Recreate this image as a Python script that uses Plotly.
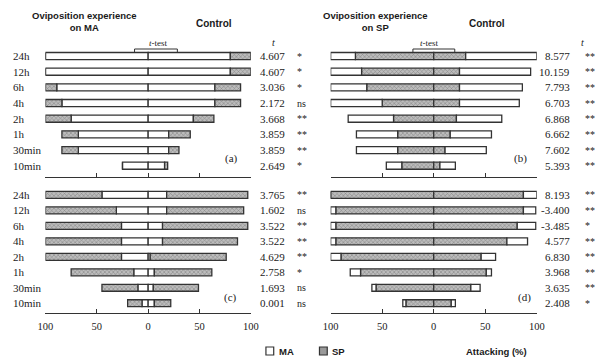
import plotly.graph_objects as go

rows = ["24h", "12h", "6h", "4h", "2h", "1h", "30min", "10min"]

# Panel (a): oviposition experience on MA  (inner = MA, outer = SP)
a_left_MA = [100, 100, 89, 84, 75, 68, 68, 25]
a_left_SP = [0, 0, 11, 16, 25, 16, 16, 0]
a_right_MA = [80, 80, 65, 65, 44, 20, 20, 16]
a_right_SP = [20, 20, 25, 25, 20, 21, 10, 3]
a_t = ["4.607", "4.607", "3.036", "2.172", "3.668", "3.859", "3.859", "2.649"]
a_sig = ["*", "*", "*", "ns", "**", "**", "**", "*"]

# Panel (b): oviposition experience on SP  (inner = SP, outer = MA)
b_left_SP = [76, 70, 65, 50, 39, 35, 35, 31]
b_left_MA = [24, 30, 35, 50, 44, 40, 40, 15]
b_right_SP = [31, 25, 25, 25, 22, 16, 11, 6]
b_right_MA = [69, 69, 61, 58, 44, 40, 40, 15]
b_t = ["8.577", "10.159", "7.793", "6.703", "6.868", "6.662", "7.602", "5.393"]
b_sig = ["**", "**", "**", "**", "**", "**", "**", "**"]

# Panel (c): oviposition experience on MA  (inner = MA, outer = SP)
c_left_MA = [45, 31, 26, 26, 26, 14, 10, 6]
c_left_SP = [55, 69, 74, 74, 74, 61, 35, 14]
c_right_MA = [18, 18, 14, 14, 2, 6, 5, 6]
c_right_SP = [79, 75, 83, 73, 74, 56, 44, 16]
c_t = ["3.765", "1.602", "3.522", "3.522", "4.629", "2.758", "1.693", "0.001"]
c_sig = ["**", "ns", "**", "**", "**", "*", "ns", "ns"]

# Panel (d): oviposition experience on SP  (inner = SP, outer = MA)
d_left_SP = [100, 95, 95, 95, 90, 71, 56, 27]
d_left_MA = [0, 5, 5, 5, 10, 10, 4, 3]
d_right_SP = [87, 87, 81, 71, 46, 51, 36, 17]
d_right_MA = [13, 12, 18, 20, 14, 5, 9, 4]
d_t = ["8.193", "-3.400", "-3.485", "4.577", "6.830", "3.968", "3.635", "2.408"]
d_sig = ["**", "**", "*", "**", "**", "**", "**", "*"]

tick_vals = [-100, -50, 0, 50, 100]
tick_text = ["100", "50", "0", "50", "100"]
legend_names = ["MA", "SP"]

W, H = 600, 361
def px(x):
    return x / W
def py(y):
    return 1 - y / H

SERIF = "Liberation Serif"
SANS = "Liberation Sans"
TXT = "#1a1a1a"
LINE = "#333333"
BAR_W = 0.45
SP_BG = "#bcbcbc"
SP_FG = "#555555"

def ma_marker():
    return dict(color="white", line=dict(color=LINE, width=1.3))

def sp_marker():
    return dict(color=SP_BG,
                pattern=dict(shape="x", fgcolor=SP_FG, bgcolor=SP_BG,
                             size=3, solidity=0.35),
                line=dict(color=LINE, width=1.3))

fig = go.Figure()
yidx = list(range(len(rows)))

def add_panel(xa, ya, inner_left, outer_left, inner_right, outer_right, inner_is_ma):
    inner_m = ma_marker if inner_is_ma else sp_marker
    outer_m = sp_marker if inner_is_ma else ma_marker
    inner_name = "MA" if inner_is_ma else "SP"
    outer_name = "SP" if inner_is_ma else "MA"
    fig.add_trace(go.Bar(y=yidx, x=[-v for v in inner_left], base=[0] * len(rows),
                         orientation="h", width=BAR_W, marker=inner_m(),
                         xaxis=xa, yaxis=ya, name=inner_name))
    fig.add_trace(go.Bar(y=yidx, x=inner_right, base=[0] * len(rows),
                         orientation="h", width=BAR_W, marker=inner_m(),
                         xaxis=xa, yaxis=ya, name=inner_name))
    fig.add_trace(go.Bar(y=yidx, x=[-v for v in outer_left],
                         base=[-v for v in inner_left],
                         orientation="h", width=BAR_W, marker=outer_m(),
                         xaxis=xa, yaxis=ya, name=outer_name))
    fig.add_trace(go.Bar(y=yidx, x=outer_right, base=inner_right,
                         orientation="h", width=BAR_W, marker=outer_m(),
                         xaxis=xa, yaxis=ya, name=outer_name))

add_panel("x", "y", a_left_MA, a_left_SP, a_right_MA, a_right_SP, True)
add_panel("x2", "y2", b_left_SP, b_left_MA, b_right_SP, b_right_MA, False)
add_panel("x3", "y3", c_left_MA, c_left_SP, c_right_MA, c_right_SP, True)
add_panel("x4", "y4", d_left_SP, d_left_MA, d_right_SP, d_right_MA, False)

left_dom = [px(38.5), px(249.5)]
right_dom = [px(331.5), px(543.3)]
top_dom = [py(176.7), py(48.2)]
bot_dom = [py(313.3), py(187.2)]

def xax(dom, anchor, labels):
    return dict(domain=dom, anchor=anchor, range=[-100, 100], showgrid=False,
                zeroline=False, showline=True, linecolor=LINE, linewidth=1,
                ticks="inside", ticklen=4, tickcolor=LINE, tickwidth=1,
                tickvals=tick_vals, ticktext=tick_text, showticklabels=labels,
                ticklabelstandoff=3,
                tickfont=dict(family=SERIF, size=10.5, color=TXT), fixedrange=True)

def yax(dom, anchor, rng):
    return dict(domain=dom, anchor=anchor, range=rng, visible=False,
                showgrid=False, zeroline=False, fixedrange=True)

annotations = []

def ann(text, x, y, size=10, family=SERIF, xanchor="center", yanchor="middle",
        xref="paper", yref="paper"):
    annotations.append(dict(text=text, x=x, y=y, xref=xref, yref=yref,
                            xanchor=xanchor, yanchor=yanchor, showarrow=False,
                            font=dict(family=family, size=size, color=TXT)))

# Headers
ann("<b>Oviposition experience<br>on MA</b>", px(79), py(21), size=9.5, family=SANS)
ann("<b>Control</b>", px(212), py(23), size=10, family=SANS)
ann("<b>Oviposition experience<br>on SP</b>", px(378), py(21), size=9.5, family=SANS)
ann("<b>Control</b>", px(492), py(23), size=10, family=SANS)
ann("<i>t</i>-test", px(155), py(43), size=9)
ann("<i>t</i>-test", px(433), py(43), size=9)
ann("<i>t</i>", px(273), py(43), size=10)
ann("<i>t</i>", px(590), py(43), size=10)

# Panel labels
ann("(a)", px(230), py(158), size=11)
ann("(b)", px(527), py(158), size=11)
ann("(c)", px(229), py(297), size=11)
ann("(d)", px(531), py(297), size=11)

# Row labels, t values, significance
for yref, tv, sg, xr, xs, lab in [("y", a_t, a_sig, 287, 295, True),
                                   ("y2", b_t, b_sig, 579, 591, False),
                                   ("y3", c_t, c_sig, 287, 295, True),
                                   ("y4", d_t, d_sig, 579, 591, False)]:
    for i, r in enumerate(rows):
        if lab:
            ann(r, px(3), i, size=11, xanchor="left", yref=yref)
        ann(tv[i], px(xr), i, size=11, xanchor="right", yref=yref)
        ann(sg[i], px(xs), i, size=10, xanchor="left", yref=yref)

ann("<b>Attacking (%)</b>", px(502), py(351), size=9.5, family=SANS)

shapes = []
# t-test brackets
for x0, x1 in [(130, 174), (416, 459)]:
    for (sx0, sy0, sx1, sy1) in [(x0, 49, x1, 49), (x0, 49, x0, 52), (x1, 49, x1, 52)]:
        shapes.append(dict(type="line", xref="paper", yref="paper",
                           x0=px(sx0), y0=py(sy0), x1=px(sx1), y1=py(sy1),
                           line=dict(color=LINE, width=1)))

# Legend (key squares + labels)
for name, sq_x, fill in [(legend_names[0], 265, "white"), (legend_names[1], 320, "#9a9a9a")]:
    shapes.append(dict(type="rect", xref="paper", yref="paper",
                       x0=px(sq_x), x1=px(sq_x + 8), y0=py(355), y1=py(347),
                       fillcolor=fill, line=dict(color=LINE, width=1.2)))
    ann("<b>%s</b>" % name, px(sq_x + 11), py(351), size=9.5, family=SANS,
        xanchor="left")

fig.update_layout(
    width=W, height=H, margin=dict(l=0, r=0, t=0, b=0),
    paper_bgcolor="white", plot_bgcolor="white",
    barmode="overlay", showlegend=False,
    xaxis=xax(left_dom, "y", False), yaxis=yax(top_dom, "x", [7.7, -0.5]),
    xaxis2=xax(right_dom, "y2", False), yaxis2=yax(top_dom, "x2", [7.7, -0.5]),
    xaxis3=xax(left_dom, "y3", True), yaxis3=yax(bot_dom, "x3", [7.65, -0.5]),
    xaxis4=xax(right_dom, "y4", True), yaxis4=yax(bot_dom, "x4", [7.65, -0.5]),
    annotations=annotations, shapes=shapes,
)

fig.write_html("out.html")
